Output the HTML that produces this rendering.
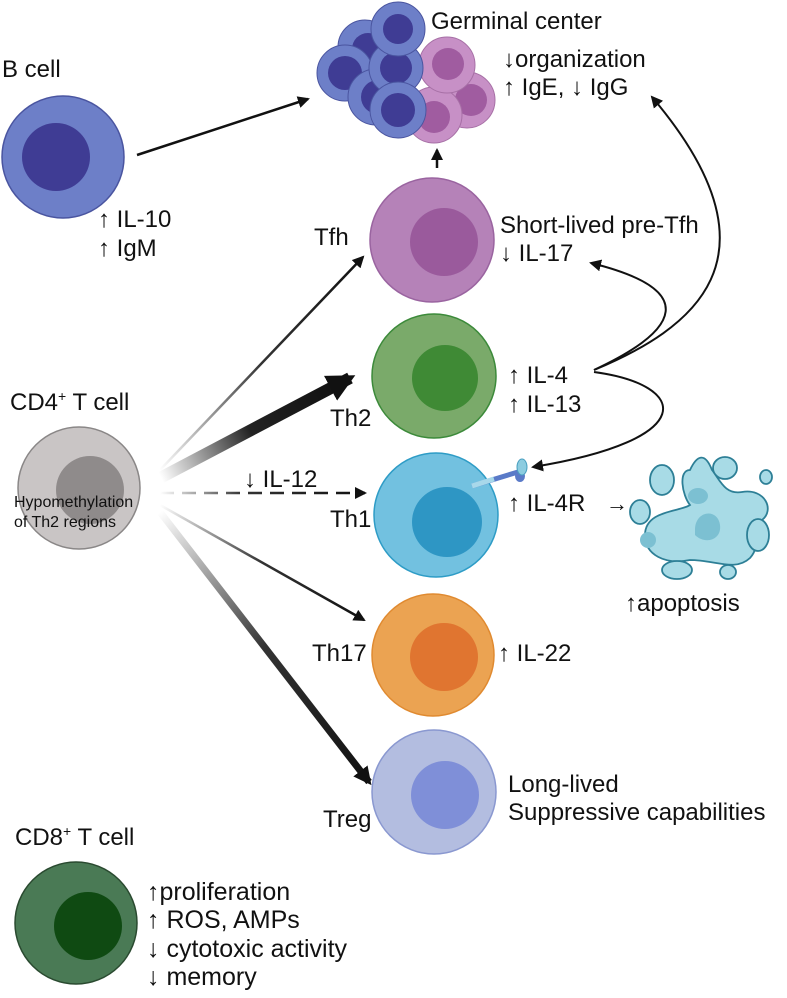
<!DOCTYPE html>
<html><head><meta charset="utf-8"><style>
body{margin:0;background:#fff}
svg text{font-family:"Liberation Sans",Arial,sans-serif;fill:#111}
</style></head><body>
<svg width="787" height="993" viewBox="0 0 787 993" xmlns="http://www.w3.org/2000/svg">
<defs>
<marker id="ah" markerWidth="12" markerHeight="12" refX="10" refY="6" orient="auto" markerUnits="userSpaceOnUse"><path d="M0,0 L12,6 L0,12 z" fill="#111"/></marker>
<marker id="ahb" markerWidth="18" markerHeight="18" refX="14" refY="9" orient="auto" markerUnits="userSpaceOnUse"><path d="M0,0 L18,9 L0,18 z" fill="#111"/></marker>
<marker id="ahxl" markerWidth="28" markerHeight="28" refX="22" refY="14" orient="auto" markerUnits="userSpaceOnUse"><path d="M0,0 L28,14 L0,28 z" fill="#111"/></marker>
<linearGradient id="g1" gradientUnits="userSpaceOnUse" x1="160" y1="475" x2="340" y2="385"><stop offset="0" stop-color="#fff"/><stop offset="0.5" stop-color="#222"/><stop offset="1" stop-color="#111"/></linearGradient>
<linearGradient id="g2" gradientUnits="userSpaceOnUse" x1="160" y1="470" x2="363" y2="257"><stop offset="0" stop-color="#fff"/><stop offset="0.5" stop-color="#333"/><stop offset="1" stop-color="#111"/></linearGradient>
<linearGradient id="g3" gradientUnits="userSpaceOnUse" x1="160" y1="493" x2="365" y2="493"><stop offset="0" stop-color="#fff"/><stop offset="0.4" stop-color="#333"/><stop offset="1" stop-color="#111"/></linearGradient>
<linearGradient id="g4" gradientUnits="userSpaceOnUse" x1="160" y1="505" x2="364" y2="620"><stop offset="0" stop-color="#fff"/><stop offset="0.5" stop-color="#333"/><stop offset="1" stop-color="#111"/></linearGradient>
<linearGradient id="g5" gradientUnits="userSpaceOnUse" x1="160" y1="512" x2="369" y2="782"><stop offset="0" stop-color="#fff"/><stop offset="0.5" stop-color="#333"/><stop offset="1" stop-color="#111"/></linearGradient>
</defs>

<!-- Germinal center -->
<g stroke-width="1">
<circle cx="467" cy="100" r="28" fill="#c790c6" stroke="#a770a6"/><circle cx="471" cy="100" r="16" fill="#a05ca0"/>
<circle cx="434" cy="115" r="28" fill="#c790c6" stroke="#a770a6"/><circle cx="434" cy="117" r="16" fill="#a05ca0"/>
<circle cx="447" cy="65" r="28" fill="#c790c6" stroke="#a770a6"/><circle cx="448" cy="64" r="16" fill="#a05ca0"/>
<circle cx="365" cy="47" r="27" fill="#6d7fc8" stroke="#4a55a0"/><circle cx="368" cy="49" r="16" fill="#3f3c94"/>
<circle cx="345" cy="73" r="28" fill="#6d7fc8" stroke="#4a55a0"/><circle cx="345" cy="73" r="17" fill="#3f3c94"/>
<circle cx="376" cy="97" r="28" fill="#6d7fc8" stroke="#4a55a0"/><circle cx="378" cy="97" r="17" fill="#3f3c94"/>
<circle cx="396" cy="68" r="27" fill="#6d7fc8" stroke="#4a55a0"/><circle cx="396" cy="68" r="16" fill="#3f3c94"/>
<circle cx="398" cy="110" r="28" fill="#6d7fc8" stroke="#4a55a0"/><circle cx="398" cy="110" r="17" fill="#3f3c94"/>
<circle cx="398" cy="29" r="27" fill="#6d7fc8" stroke="#4a55a0"/><circle cx="398" cy="29" r="15" fill="#3f3c94"/>
</g>
<g font-size="24">
<text x="431" y="29">Germinal center</text>
<text x="503" y="67">↓organization</text>
<text x="503" y="95">↑ IgE, ↓ IgG</text>
</g>
<line x1="437" y1="168" x2="437" y2="150" stroke="#111" stroke-width="2.5" marker-end="url(#ah)"/>

<!-- B cell -->
<text x="2" y="77" font-size="24">B cell</text>
<circle cx="63" cy="157" r="61" fill="#6d7fc8" stroke="#4a55a0" stroke-width="1.5"/>
<circle cx="56" cy="157" r="34" fill="#3f3c94"/>
<line x1="137" y1="155" x2="308" y2="99" stroke="#111" stroke-width="2.5" marker-end="url(#ah)"/>
<text x="98" y="227" font-size="24">↑ IL-10</text>
<text x="98" y="256" font-size="24">↑ IgM</text>

<!-- Tfh -->
<circle cx="432" cy="240" r="62" fill="#b582b8" stroke="#9a64a0" stroke-width="1.5"/>
<circle cx="444" cy="242" r="34" fill="#9a5a9c"/>
<text x="314" y="245" font-size="24">Tfh</text>
<text x="500" y="233" font-size="24">Short-lived pre-Tfh</text>
<text x="500" y="261" font-size="24">↓ IL-17</text>

<!-- Th2 -->
<circle cx="434" cy="376" r="62" fill="#7aaa6a" stroke="#3c8a3a" stroke-width="1.5"/>
<circle cx="445" cy="378" r="33" fill="#3f8a35"/>
<text x="330" y="426" font-size="24">Th2</text>
<text x="508" y="383" font-size="24">↑ IL-4</text>
<text x="508" y="412" font-size="24">↑ IL-13</text>

<!-- Th1 -->
<circle cx="436" cy="515" r="62" fill="#72c1e0" stroke="#2e9cc6" stroke-width="1.5"/>
<circle cx="447" cy="522" r="35" fill="#2e96c4"/>
<line x1="472" y1="486" x2="518" y2="472" stroke="#5a7ac8" stroke-width="5"/>
<line x1="472" y1="486" x2="494" y2="479" stroke="#a8d8ea" stroke-width="5"/>
<ellipse cx="520" cy="476" rx="5" ry="6" fill="#5a7ac8"/>
<ellipse cx="522" cy="467" rx="5" ry="8" fill="#8ccce0" stroke="#4aa0c0"/>
<text x="330" y="527" font-size="24">Th1</text>
<text x="508" y="511" font-size="24">↑ IL-4R</text>
<text x="606" y="511" font-size="22">→</text>

<!-- apoptosis -->
<g fill="#a8dbe6" stroke="#2d7f96" stroke-width="1.8">
<path d="M690,470 C678,470 682,495 690,505 C680,512 645,510 645,535 C645,555 665,565 690,560 C715,560 735,572 750,558 C762,545 752,530 762,520 C775,510 765,488 742,492 C725,495 720,480 712,470 C705,452 697,455 690,470 Z"/>
<ellipse cx="662" cy="480" rx="12" ry="15"/>
<ellipse cx="725" cy="468" rx="12" ry="11"/>
<ellipse cx="766" cy="477" rx="6" ry="7"/>
<ellipse cx="640" cy="512" rx="10" ry="12"/>
<ellipse cx="758" cy="535" rx="11" ry="16"/>
<ellipse cx="677" cy="570" rx="15" ry="9"/>
<ellipse cx="728" cy="572" rx="8" ry="7"/>
</g>
<g fill="#7cc0d2"><ellipse cx="698" cy="496" rx="10" ry="8"/><path d="M695,530 C695,510 718,508 720,525 C722,540 705,545 695,535 Z"/><ellipse cx="648" cy="540" rx="8" ry="8"/></g>
<text x="625" y="611" font-size="24">↑apoptosis</text>

<!-- Th17 -->
<circle cx="433" cy="655" r="61" fill="#eba352" stroke="#e08a30" stroke-width="1.5"/>
<circle cx="444" cy="657" r="34" fill="#e07530"/>
<text x="312" y="661" font-size="24">Th17</text>
<text x="498" y="661" font-size="24">↑ IL-22</text>

<!-- Treg -->
<circle cx="434" cy="792" r="62" fill="#b3bde0" stroke="#8a98d0" stroke-width="1.5"/>
<circle cx="445" cy="795" r="34" fill="#7f8fd8"/>
<text x="323" y="827" font-size="24">Treg</text>
<text x="508" y="792" font-size="24">Long-lived</text>
<text x="508" y="820" font-size="24">Suppressive capabilities</text>

<!-- CD4 -->
<text x="10" y="410" font-size="24">CD4<tspan font-size="14" dy="-9">+</tspan><tspan dy="9"> T cell</tspan></text>
<circle cx="79" cy="488" r="61" fill="#c9c5c5" stroke="#8a8787" stroke-width="1.5"/>
<circle cx="90" cy="490" r="34" fill="#8f8b8b"/>
<text x="14" y="507" font-size="16">Hypomethylation</text>
<text x="14" y="527" font-size="16">of Th2 regions</text>
<text x="244" y="487" font-size="24">↓ IL-12</text>

<!-- CD4 arrows -->
<line x1="160" y1="470" x2="363" y2="257" stroke="url(#g2)" stroke-width="2.5" marker-end="url(#ah)"/>
<line x1="160" y1="478" x2="350" y2="378" stroke="url(#g1)" stroke-width="12" marker-end="url(#ahxl)"/>
<line x1="160" y1="493" x2="365" y2="493" stroke="url(#g3)" stroke-width="2.5" stroke-dasharray="14,8" marker-end="url(#ah)"/>
<line x1="160" y1="505" x2="364" y2="620" stroke="url(#g4)" stroke-width="2.5" marker-end="url(#ah)"/>
<line x1="160" y1="512" x2="369" y2="782" stroke="url(#g5)" stroke-width="7" marker-end="url(#ahb)"/>

<!-- curved arrows from IL-4 -->
<g fill="none" stroke="#111" stroke-width="2">
<path d="M594,370 C690,330 790,260 652,97" marker-end="url(#ah)"/>
<path d="M594,370 C680,330 700,290 591,263" marker-end="url(#ah)"/>
<path d="M594,372 C690,385 700,440 533,467" marker-end="url(#ah)"/>
</g>

<!-- CD8 -->
<text x="15" y="845" font-size="24">CD8<tspan font-size="14" dy="-9">+</tspan><tspan dy="9"> T cell</tspan></text>
<circle cx="76" cy="923" r="61" fill="#4a7a55" stroke="#2a4a30" stroke-width="1.5"/>
<circle cx="88" cy="926" r="34" fill="#0f4a12"/>
<g font-size="25">
<text x="147" y="900">↑proliferation</text>
<text x="147" y="928">↑ ROS, AMPs</text>
<text x="147" y="957">↓ cytotoxic activity</text>
<text x="147" y="985">↓ memory</text>
</g>
</svg>
</body></html>
